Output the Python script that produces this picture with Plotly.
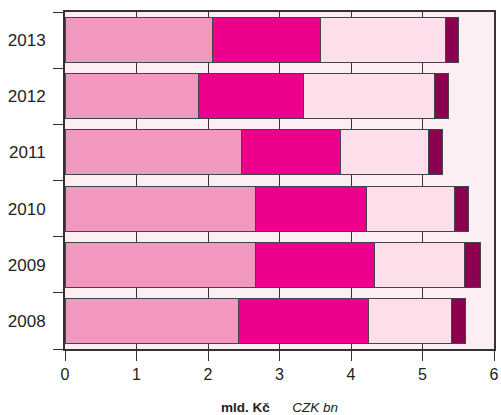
import plotly.graph_objects as go

years = ["2008", "2009", "2010", "2011", "2012", "2013"]
seg1 = [2.42, 2.67, 2.66, 2.47, 1.87, 2.06]
seg2 = [1.82, 1.66, 1.55, 1.38, 1.47, 1.51]
seg3 = [1.17, 1.26, 1.24, 1.24, 1.83, 1.75]
seg4 = [0.19, 0.22, 0.19, 0.19, 0.19, 0.19]
x_ticks = [0, 1, 2, 3, 4, 5, 6]

colors = ["#F298C0", "#EC008C", "#FCDFEA", "#8C0050"]

fig = go.Figure()
for vals, c in zip([seg1, seg2, seg3, seg4], colors):
    fig.add_trace(go.Bar(
        y=years, x=vals, orientation="h",
        marker=dict(color=c, line=dict(color="#444444", width=1)),
        width=0.8, showlegend=False, hoverinfo="skip",
    ))

fig.update_layout(
    barmode="stack",
    width=501, height=415,
    margin=dict(l=65, r=7, t=12, b=66),
    paper_bgcolor="white",
    plot_bgcolor="#FDEEF4",
    font=dict(family="Liberation Sans, Arial, sans-serif", size=16, color="#222222"),
    xaxis=dict(
        range=[0, 6], tickvals=x_ticks, ticks="outside", ticklen=10,
        tickcolor="#333333", showline=True, linecolor="#333333", linewidth=1.5,
        mirror=True, showgrid=True, gridcolor="#333333", gridwidth=1,
        zeroline=False, automargin=False,
        title=dict(text="<b>mld. Kč</b>      <i>CZK bn</i>",
                   font=dict(size=13.5, color="#222222"), standoff=22),
    ),
    yaxis=dict(
        type="category", categoryorder="array", categoryarray=years,
        ticks="outside", ticklen=10, tickson="boundaries", tickcolor="#333333",
        showline=True, linecolor="#333333", linewidth=1.5, mirror=True,
        showgrid=False, zeroline=False, automargin=False,
        ticksuffix="   ", tickfont=dict(size=17),
    ),
)

fig.write_html(
    "out.html",
    config={"displayModeBar": False},
    post_script="document.body.style.margin='0';document.body.style.overflow='hidden';",
)
